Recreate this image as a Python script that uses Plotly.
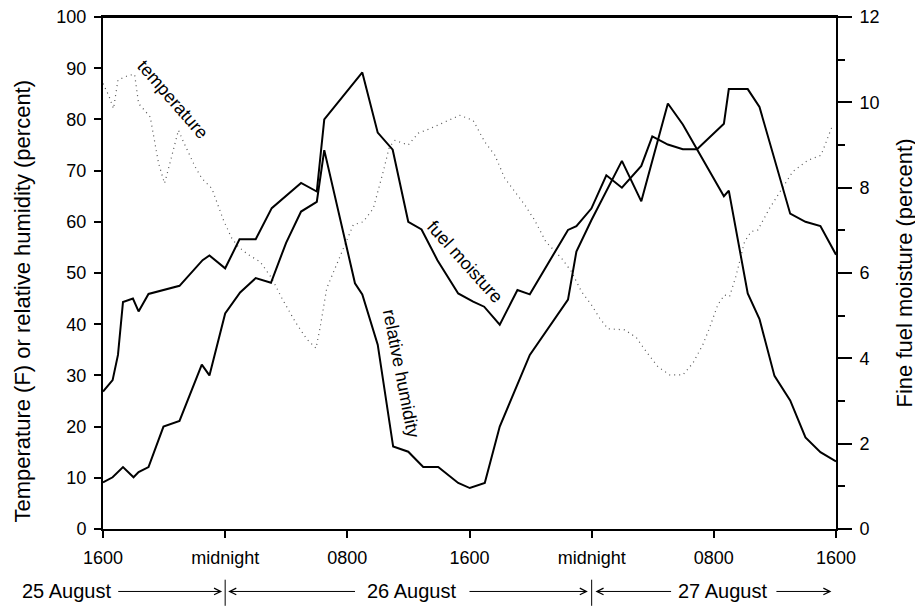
import plotly.graph_objects as go

# ---------------- data (hours after 1600, 25 August) ----------------
tick_hours = [0, 8, 16, 24, 32, 40, 48]
tick_labels = ["1600", "midnight", "0800", "1600", "midnight", "0800", "1600"]

temp_hours = [0.0, 0.37, 0.69, 0.98, 1.67, 2.07, 2.33, 3.09, 3.64, 4.03, 4.29, 4.94, 5.27,
              6.04, 6.47, 7.13, 7.89, 8.43, 8.87, 9.5, 10.29, 11.05, 11.71, 12.58, 13.34,
              13.95, 14.21, 14.65, 15.74, 16.39, 17.04, 17.7, 18.35, 18.75, 19.12, 19.99,
              20.64, 21.41, 22.39, 23.37, 24.24, 25.0, 25.66, 26.31, 26.97, 27.62, 28.27,
              29.0, 30.02, 30.67, 31.33, 31.98, 32.52, 33.07, 34.16, 34.92, 35.58, 36.34,
              37.1, 37.97, 38.63, 39.28, 39.71, 40.26, 40.7, 41.03, 41.47, 42.01, 42.45,
              42.88, 43.64, 44.41, 45.17, 46.15, 47.02, 47.78]
temperature = [87.0, 84.7, 82.1, 87.7, 88.6, 88.8, 83.1, 80.5, 71.4, 67.5, 70.4, 77.9, 75.6,
               70.7, 68.5, 66.5, 60.3, 56.8, 55.1, 53.6, 52.2, 49.0, 45.1, 40.5, 37.1,
               35.3, 39.2, 47.0, 54.8, 59.4, 60.0, 62.6, 69.8, 74.6, 75.9, 75.0,
               77.3, 78.2, 79.5, 80.8, 79.8, 75.6, 73.0, 68.5, 65.9, 63.3, 60.3,
               56.1, 52.9, 50.3, 46.4, 43.8, 41.2, 39.1, 38.9, 37.4, 34.6, 31.7,
               30.1, 30.1, 32.4, 36.0, 39.2, 43.8, 45.7, 45.4, 49.6, 56.1, 58.1,
               58.4, 62.6, 66.2, 69.8, 72.0, 73.0, 78.9]

rh_hours = [0.0, 0.63, 1.31, 2.0, 2.33, 2.98, 3.96, 5.01, 6.47, 6.97, 8.0, 8.98, 10.0, 11.0,
            11.99, 12.97, 14.0, 14.49, 16.5, 16.98, 17.99, 19.0, 19.99, 20.97, 21.95, 23.26,
            24.02, 25.0, 25.98, 27.95, 30.45, 31.0, 31.98, 33.98, 35.25, 36.99, 37.97,
            40.66, 40.98, 42.22, 42.99, 43.97, 45.0, 46.0, 46.98, 48.0]
relative_humidity = [9.1, 10.1, 12.1, 10.1, 11.1, 12.1, 20.0, 21.1, 32.1, 30.0, 42.1, 46.2, 49.0, 48.1,
                     55.9, 62.0, 63.9, 74.0, 48.0, 45.8, 36.0, 16.1, 15.1, 12.1, 12.1, 9.0,
                     8.0, 9.0, 20.0, 34.0, 44.8, 54.2, 60.3, 71.9, 64.0, 83.1, 79.0,
                     65.0, 66.1, 46.0, 41.0, 29.9, 25.1, 17.9, 15.0, 13.2]

fm_hours = [0.0, 0.63, 0.98, 1.31, 1.96, 2.33, 2.98, 5.01, 6.52, 6.97, 8.0, 8.94, 10.0, 11.05,
            12.97, 14.0, 14.49, 16.98, 17.99, 18.97, 19.99, 20.86, 21.9, 23.26, 24.24, 24.96,
            25.98, 27.14, 27.95, 30.45, 31.0, 31.98, 32.96, 33.98, 35.25, 35.97, 36.99, 37.97,
            38.9, 40.66, 40.98, 42.22, 42.99, 43.97, 45.0, 46.0, 46.98, 48.0]
fuel_moisture = [3.22, 3.49, 4.08, 5.32, 5.40, 5.10, 5.51, 5.70, 6.30, 6.41, 6.11, 6.79, 6.79, 7.52,
                 8.11, 7.91, 9.60, 10.70, 9.29, 8.89, 7.20, 7.02, 6.30, 5.52, 5.33, 5.21,
                 4.79, 5.60, 5.50, 7.01, 7.10, 7.51, 8.29, 8.00, 8.51, 9.20, 9.01, 8.90,
                 8.90, 9.50, 10.31, 10.31, 9.89, 8.69, 7.39, 7.20, 7.10, 6.43]

date_labels = ["25 August", "26 August", "27 August"]
date_label_hours = [-2.4, 20.2, 40.6]
midnights = [8, 32]
X_RANGE = [0, 48]

left_title = "Temperature (F) or relative humidity (percent)"
right_title = "Fine fuel moisture (percent)"

FONT = "Liberation Sans, Arial, Helvetica, sans-serif"


def to_paper(h):
    return (h - X_RANGE[0]) / (X_RANGE[1] - X_RANGE[0])


fig = go.Figure()
fig.add_trace(go.Scatter(x=temp_hours, y=temperature, mode="lines",
                         line=dict(color="#555555", width=1.2, dash="1px,4px"),
                         name="temperature", showlegend=False))
fig.add_trace(go.Scatter(x=rh_hours, y=relative_humidity, mode="lines",
                         line=dict(color="black", width=2),
                         name="relative humidity", showlegend=False))
fig.add_trace(go.Scatter(x=fm_hours, y=fuel_moisture, mode="lines", yaxis="y2",
                         line=dict(color="black", width=2),
                         name="fuel moisture", showlegend=False))

common_y = dict(showgrid=False, zeroline=False, showline=True, linecolor="black", linewidth=2,
                automargin=False, ticklabeloverflow="allow", tickcolor="black",
                tickfont=dict(size=18), ticklabelstandoff=4, tickwidth=1.5, ticks="outside")

fig.update_layout(
    width=915, height=599,
    margin=dict(l=95, r=87, t=9, b=78, autoexpand=False),
    paper_bgcolor="white", plot_bgcolor="white",
    font=dict(family=FONT, size=18, color="black"),
    xaxis=dict(range=X_RANGE, tickvals=tick_hours, ticktext=tick_labels, automargin=False,
               showgrid=False, zeroline=False, showline=True, linecolor="black", linewidth=2,
               mirror=True, ticks="outside", ticklen=7, tickwidth=1.5, tickcolor="black",
               ticklabeloverflow="allow", tickfont=dict(size=18), ticklabelstandoff=4),
    yaxis=dict(range=[0, 100], tickvals=list(range(0, 101, 10)), ticklen=7, **common_y),
    yaxis2=dict(range=[0, 12], overlaying="y", side="right", tickvals=list(range(0, 13, 2)),
                ticklen=14,
                minor=dict(dtick=1, ticks="outside", ticklen=7, tickwidth=1.5, tickcolor="black"),
                **common_y),
)

# frame top edge
fig.add_shape(type="line", xref="paper", yref="paper", x0=0, x1=1, y0=1, y1=1,
              line=dict(color="black", width=2))

# axis titles
fig.add_annotation(x=-0.11, y=0.445, xref="paper", yref="paper", text=left_title,
                   showarrow=False, textangle=-90, xanchor="center", yanchor="middle",
                   font=dict(size=22))
fig.add_annotation(x=1.0934, y=0.5, xref="paper", yref="paper", text=right_title,
                   showarrow=False, textangle=-90, xanchor="center", yanchor="middle",
                   font=dict(size=22))

# in-plot labels
fig.add_annotation(x=4.53, y=83.9, xref="x", yref="y", text="temperature", showarrow=False,
                   textangle=49, font=dict(size=18))
fig.add_annotation(x=23.7, y=52.1, xref="x", yref="y", text="fuel moisture", showarrow=False,
                   textangle=48, font=dict(size=18))
fig.add_annotation(x=19.5, y=30.4, xref="x", yref="y", text="relative humidity", showarrow=False,
                   textangle=79, font=dict(size=18))

# date bar below the axis
ydate = -0.122
for lab, h in zip(date_labels, date_label_hours):
    fig.add_annotation(x=to_paper(h), y=ydate, xref="paper", yref="paper", text=lab,
                       showarrow=False, xanchor="center", yanchor="middle", font=dict(size=20))

arrows = [(0.9, 7.8), (16.6, 8.2), (23.9, 31.75), (37.3, 32.25), (44.0, 47.7)]
for tail, head in arrows:
    fig.add_annotation(x=head, y=ydate, xref="x", yref="paper", ax=tail, axref="x",
                       ay=0, ayref="pixel", text="", showarrow=True, arrowhead=5,
                       arrowsize=1.3, arrowwidth=1, arrowcolor="black")
for m in midnights:
    fig.add_shape(type="line", x0=m, x1=m, xref="x", y0=-0.099, y1=-0.15, yref="paper",
                  line=dict(color="black", width=1))

fig.write_html("out.html")
